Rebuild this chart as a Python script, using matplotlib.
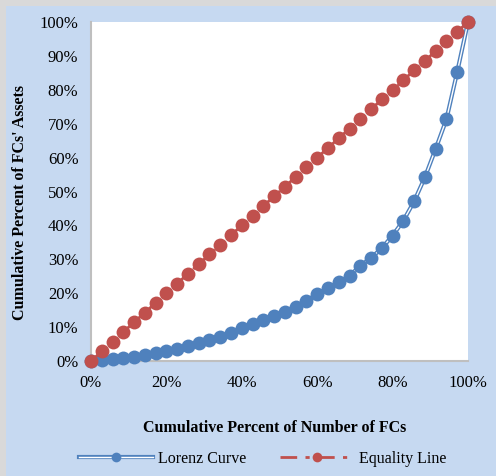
import numpy as np
import matplotlib
matplotlib.use("Agg")
import matplotlib.pyplot as plt
from matplotlib.ticker import PercentFormatter
from matplotlib.patches import Rectangle
from matplotlib.lines import Line2D
from matplotlib.legend_handler import HandlerTuple

plt.rcParams['font.family'] = ['Liberation Serif', 'DejaVu Serif']

# cumulative share of number of FCs (36 points, 0..100%)
n_points = 36
x_share = [i / (n_points - 1) * 100 for i in range(n_points)]

# cumulative share of assets
lorenz = [0.0, 0.2, 0.5, 0.9, 1.2, 1.7, 2.3, 3.0, 3.6, 4.4,
          5.2, 6.2, 7.2, 8.2, 9.6, 10.8, 12.0, 13.2, 14.6, 16.0,
          17.8, 19.7, 21.4, 23.2, 25.1, 28.1, 30.4, 33.3, 37.0, 41.4,
          47.1, 54.2, 62.6, 71.3, 85.3, 100.0]
equality = list(x_share)

blue = '#4F81BD'
red = '#C0504D'
bg = '#C6D9F1'
dash = (0, (6, 3, 1.5, 3))

fig = plt.figure(figsize=(4.96, 4.76), dpi=100)
fig.patch.set_facecolor('#D9D9D9')
fig.patches.append(Rectangle((6 / 496, 0), 1, 1 - 6 / 476, transform=fig.transFigure,
                             facecolor=bg, edgecolor='none', zorder=-1))

ax = fig.add_axes([91 / 496, 1 - 361 / 476, 377 / 496, 339 / 476])
ax.set_facecolor('white')

# Lorenz curve: double (compound) line with round markers
ax.plot(x_share, lorenz, color=blue, lw=3.0, zorder=3)
ax.plot(x_share, lorenz, color='white', lw=1.0, zorder=3.5)
ax.plot(x_share, lorenz, color=blue, lw=0, marker='o', ms=10, mew=0, zorder=4)
ax.plot(x_share, equality, color=red, lw=2, ls=dash, marker='o', ms=10, mew=0,
        zorder=5)

ax.set_xlim(0, 100)
ax.set_ylim(0, 100)
ax.set_xticks(np.arange(0, 101, 20))
ax.set_yticks(np.arange(0, 101, 10))
ax.xaxis.set_major_formatter(PercentFormatter(decimals=0))
ax.yaxis.set_major_formatter(PercentFormatter(decimals=0))
ax.tick_params(length=0, labelsize=12)
ax.tick_params(axis='x', pad=10)
ax.tick_params(axis='y', pad=9)

for s in ['top', 'right']:
    ax.spines[s].set_visible(False)
for s in ['left', 'bottom']:
    ax.spines[s].set_color('#BFBFBF')
    ax.spines[s].set_linewidth(1.5)
    ax.spines[s].set_zorder(2)

ax.set_xlabel('Cumulative Percent of Number of FCs', fontsize=11.5, fontweight='bold')
ax.set_ylabel("Cumulative Percent of FCs' Assets", fontsize=11.5, fontweight='bold')
ax.xaxis.set_label_coords(0.488, -0.174)
ax.yaxis.set_label_coords(-0.167, 0.469)
for line in ax.lines:
    line.set_clip_on(False)

# legend handles (parts drawn on top of each other)
h_lor = (Line2D([], [], color=blue, lw=3.0),
         Line2D([], [], color='white', lw=1.0),
         Line2D([], [], color=blue, lw=0, marker='o', ms=7, mew=0))
h_eq = Line2D([], [], color=red, lw=2, ls=dash, marker='o', ms=7, mew=0)
fig.legend([h_lor, h_eq], ['Lorenz Curve', 'Equality Line'],
           handler_map={tuple: HandlerTuple(ndivide=1, pad=0)},
           loc='center', bbox_to_anchor=(0.53, 1 - 459 / 476), ncol=2,
           frameon=False, fontsize=11.5, handlelength=4.6, handletextpad=0.35,
           columnspacing=2.1)

fig.savefig('out.png', dpi=100, facecolor=fig.get_facecolor())
